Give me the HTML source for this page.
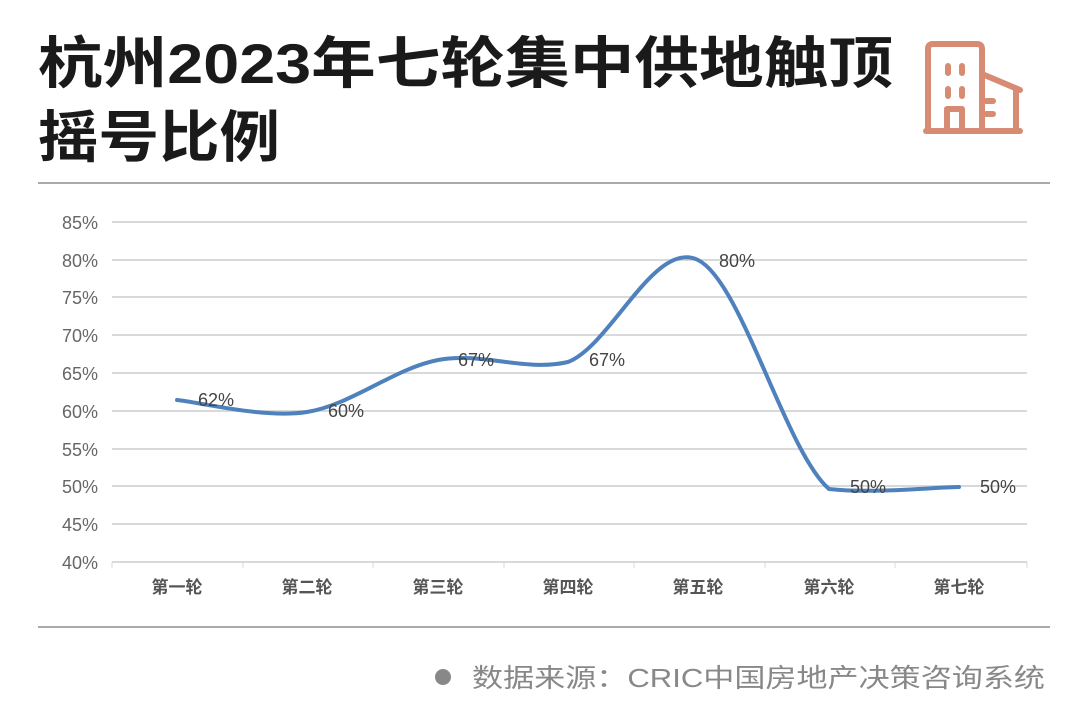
<!DOCTYPE html>
<html><head><meta charset="utf-8"><style>
body{margin:0;background:#fff;width:1080px;height:724px;overflow:hidden;font-family:"Liberation Sans","Noto Sans CJK SC",sans-serif;}
</style></head><body>
<svg width="1080" height="724" viewBox="0 0 1080 724" xmlns="http://www.w3.org/2000/svg" style="position:absolute;left:0;top:0">
<g font-family="'Liberation Sans','Noto Sans CJK SC',sans-serif">
<text x="38" y="83" font-size="56" font-weight="bold" fill="#1a1a1a" textLength="855" lengthAdjust="spacingAndGlyphs">杭州2023年七轮集中供地触顶</text>
<text x="38" y="157" font-size="56" font-weight="bold" fill="#1a1a1a" textLength="242" lengthAdjust="spacingAndGlyphs">摇号比例</text>
</g>
<g fill="none" stroke="#d68b72" stroke-width="6" stroke-linecap="round" stroke-linejoin="round">
<path d="M928 131 L928 49 Q928 44 933 44 L977 44 Q982 44 982 49 L982 131"/>
<path d="M982 74 L1020 90"/>
<path d="M1016 90 L1016 131"/>
<path d="M926 131 L1020 131"/>
<path d="M947 109 L962 109 L962 131 M947 109 L947 131"/>
<path d="M948 66 L948 73 M962 66 L962 73 M948 89 L948 96 M962 89 L962 96"/>
<path d="M986 101 L993 101 M986 114 L993 114"/>
</g>
<line x1="38" y1="183" x2="1050" y2="183" stroke="#555" stroke-width="1"/>
<line x1="38" y1="627" x2="1050" y2="627" stroke="#555" stroke-width="1"/>
<g stroke="#d9d9d9" stroke-width="2">
<line x1="112" y1="222" x2="1027" y2="222"/><line x1="112" y1="260" x2="1027" y2="260"/>
<line x1="112" y1="297" x2="1027" y2="297"/><line x1="112" y1="335" x2="1027" y2="335"/>
<line x1="112" y1="373" x2="1027" y2="373"/><line x1="112" y1="411" x2="1027" y2="411"/>
<line x1="112" y1="449" x2="1027" y2="449"/><line x1="112" y1="486" x2="1027" y2="486"/>
<line x1="112" y1="524" x2="1027" y2="524"/><line x1="112" y1="562" x2="1027" y2="562"/>
</g>
<g stroke="#d9d9d9" stroke-width="1">
<line x1="112" y1="562" x2="112" y2="568"/><line x1="243" y1="562" x2="243" y2="568"/><line x1="373" y1="562" x2="373" y2="568"/><line x1="504" y1="562" x2="504" y2="568"/><line x1="634" y1="562" x2="634" y2="568"/><line x1="765" y1="562" x2="765" y2="568"/><line x1="895" y1="562" x2="895" y2="568"/><line x1="1027" y1="562" x2="1027" y2="568"/>
</g>
<g font-family="'Liberation Sans',sans-serif" font-size="18" fill="#666" text-anchor="end">
<text x="98" y="229">85%</text><text x="98" y="267">80%</text><text x="98" y="304">75%</text>
<text x="98" y="342">70%</text><text x="98" y="380">65%</text><text x="98" y="418">60%</text>
<text x="98" y="456">55%</text><text x="98" y="493">50%</text><text x="98" y="531">45%</text>
<text x="98" y="569">40%</text>
</g>
<g font-family="'Liberation Sans','Noto Sans CJK SC',sans-serif" font-size="17" font-weight="bold" fill="#555" text-anchor="middle">
<text x="177" y="593">第一轮</text><text x="307" y="593">第二轮</text><text x="438" y="593">第三轮</text>
<text x="568" y="593">第四轮</text><text x="698" y="593">第五轮</text><text x="829" y="593">第六轮</text>
<text x="959" y="593">第七轮</text>
</g>
<path d="M177 400 C198.7 402 263.5 418.7 307 412 C350.5 405.3 394.5 368.3 438 360 C481.5 351.7 524.7 372 568 362 C611.3 345.3 654.5 238.8 698 260 C741.5 281.2 785.5 451.2 829 489 C872 494 937 487 959 487" fill="none" stroke="#4f81bd" stroke-width="4" stroke-linecap="round"/>
<g font-family="'Liberation Sans',sans-serif" font-size="18" fill="#444">
<text x="198" y="406">62%</text><text x="328" y="417">60%</text><text x="458" y="366">67%</text>
<text x="589" y="366">67%</text><text x="719" y="267">80%</text><text x="850" y="493">50%</text>
<text x="980" y="493">50%</text>
</g>
<circle cx="443" cy="677" r="8" fill="#888"/>
<text x="472" y="687" font-family="'Liberation Sans','Noto Sans CJK SC',sans-serif" font-size="26" fill="#888" textLength="573" lengthAdjust="spacingAndGlyphs">数据来源：CRIC中国房地产决策咨询系统</text>
</svg>
</body></html>
